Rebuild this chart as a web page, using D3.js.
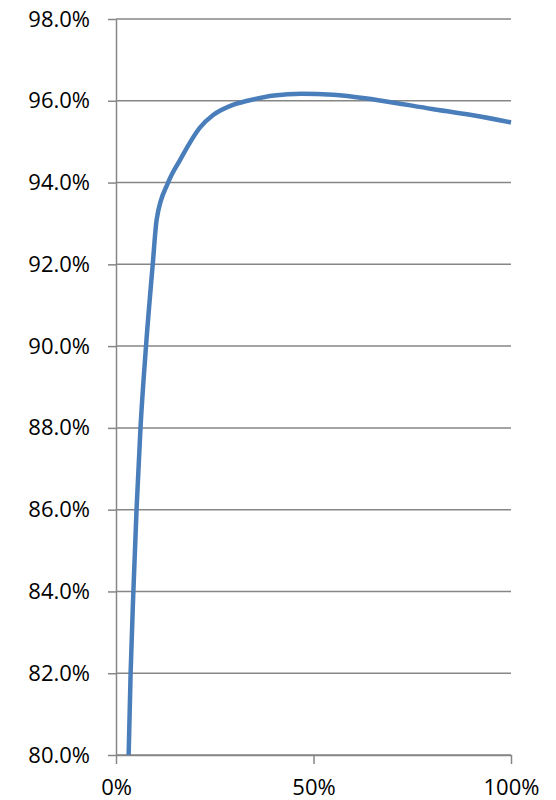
<!DOCTYPE html>
<html>
<head>
<meta charset="utf-8">
<script src="https://cdn.jsdelivr.net/npm/d3@7"></script>
<style>
  body { margin: 0; background: #fff; }
  svg text { font-family: "Open Sans", sans-serif; fill: #000; }
</style>
</head>
<body>
<svg id="drawing_region"></svg>
<script>
// share of x (fraction) vs y value (fraction)
const xValues = [0.032, 0.037, 0.044, 0.052, 0.062, 0.076, 0.093, 0.103, 0.132, 0.162, 0.213, 0.246, 0.296, 0.333, 0.40, 0.47, 0.55, 0.66, 0.80, 0.90, 1.00];
const yValues = [0.800, 0.820, 0.840, 0.860, 0.880, 0.900, 0.920, 0.931, 0.940, 0.9455, 0.9535, 0.9565, 0.959, 0.960, 0.9613, 0.9617, 0.9615, 0.9602, 0.958, 0.9565, 0.9547];
const yTicks = [0.80, 0.82, 0.84, 0.86, 0.88, 0.90, 0.92, 0.94, 0.96, 0.98];
const xTicks = [0, 0.5, 1];

const data = xValues.map((x, i) => ({ x: x, y: yValues[i] }));

const config = {
    width: 556,
    height: 800,
    margin: { top: 19, right: 45, bottom: 45, left: 116 }
};

const svg = d3.select('#drawing_region')
    .attr('width', config.width)
    .attr('height', config.height);

const inner_width = config.width - config.margin.left - config.margin.right;
const inner_height = config.height - config.margin.top - config.margin.bottom;

const chart = svg.append('g')
    .attr('transform', `translate(${config.margin.left}, ${config.margin.top})`);

const xscale = d3.scaleLinear().domain([0, 1]).range([0, inner_width]);
const yscale = d3.scaleLinear().domain([0.80, 0.98]).range([inner_height, 0]);

// gridlines
chart.append('g')
    .selectAll('line')
    .data(yTicks)
    .join('line')
    .attr('x1', 0)
    .attr('x2', inner_width)
    .attr('y1', d => yscale(d))
    .attr('y2', d => yscale(d))
    .attr('stroke', '#868686')
    .attr('stroke-width', 1.5);

// y axis
const yaxis = chart.append('g')
    .call(d3.axisLeft(yscale)
        .tickValues(yTicks)
        .tickFormat(d3.format('.1%'))
        .tickSizeInner(8)
        .tickSizeOuter(0)
        .tickPadding(18));

// x axis
const xaxis = chart.append('g')
    .attr('transform', `translate(0, ${inner_height})`)
    .call(d3.axisBottom(xscale)
        .tickValues(xTicks)
        .tickFormat(d3.format('.0%'))
        .tickSizeInner(9)
        .tickSizeOuter(0)
        .tickPadding(15));

[yaxis, xaxis].forEach(ax => {
    ax.selectAll('path, line').attr('stroke', '#868686').attr('stroke-width', 1.5);
    ax.selectAll('text').style('font-size', '22px').style('font-family', '"Open Sans", sans-serif').attr('fill', '#000');
});

// line
const line = d3.line()
    .x(d => xscale(d.x))
    .y(d => yscale(d.y))
    .curve(d3.curveMonotoneX);

chart.append('path')
    .datum(data)
    .attr('d', line)
    .attr('fill', 'none')
    .attr('stroke', '#4A7EBB')
    .attr('stroke-width', 4.5)
    .attr('stroke-linejoin', 'round');
</script>
</body>
</html>
